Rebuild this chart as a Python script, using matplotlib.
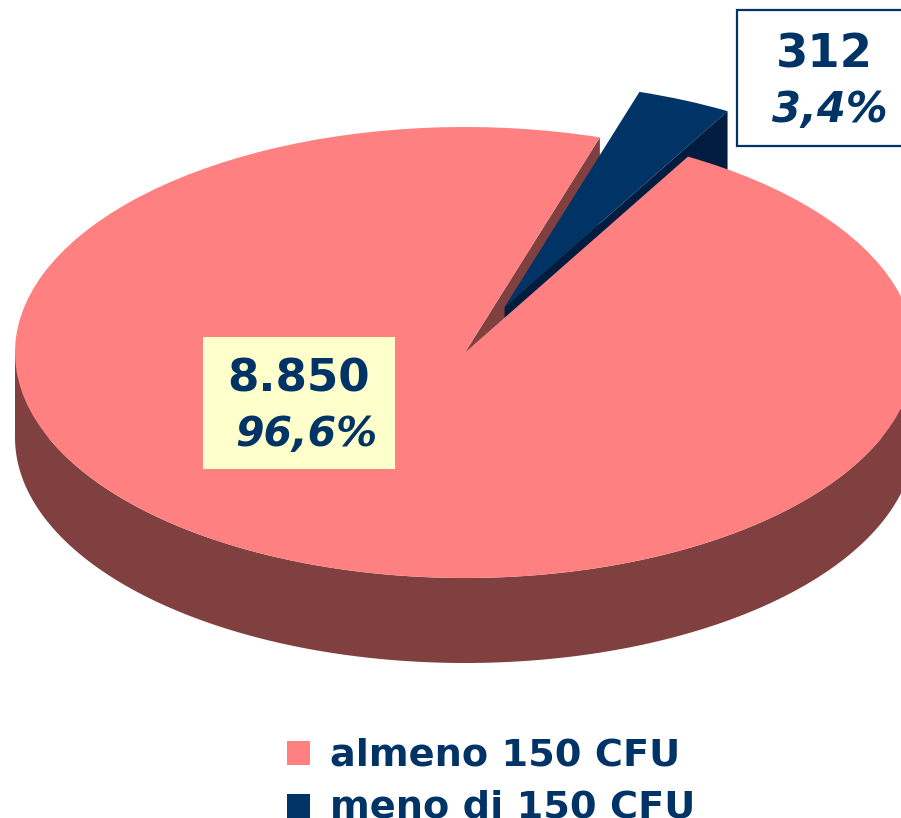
import numpy as np
import matplotlib
matplotlib.use("Agg")
import matplotlib.pyplot as plt
from matplotlib.patches import Rectangle

categories = ["almeno 150 CFU", "meno di 150 CFU"]
values = [8850, 312]
value_labels = ["8.850", "312"]
pct_labels = ["96,6%", "3,4%"]
colors = ["#FF8080", "#003366"]
wall_colors = ["#804040", "#001D3F"]

W, H = 901, 818
CX, CY, RX, RY = 465, 352.5, 450, 225.5
DEPTH = 85 / RY
START = 60.3
EXPLODE = 0.22
NAVY = "#003366"

fig = plt.figure(figsize=(W / 100, H / 100), dpi=100, facecolor="white")
ax = fig.add_axes([0, 0, 1, 1])
wedges, _ = ax.pie(values, colors=colors, startangle=START, counterclock=False,
                   explode=[0, EXPLODE], radius=1, center=(0, 0), frame=True,
                   wedgeprops=dict(linewidth=0))
ax.set_aspect("auto")
ax.set_xlim(-CX / RX, (W - CX) / RX)
ax.set_ylim((CY - H) / RY, CY / RY)
ax.axis("off")
wedges[0].set_zorder(6)
wedges[1].set_zorder(5)

frac = np.array(values) / sum(values)
a_pink_end = START - frac[0] * 360
a_navy_end = a_pink_end - frac[1] * 360
mid = np.radians((a_pink_end + a_navy_end) / 2)
off = EXPLODE * np.array([np.cos(mid), np.sin(mid)])


def quad(a, origin):
    t = np.radians(a)
    x = [origin[0], origin[0] + np.cos(t), origin[0] + np.cos(t), origin[0]]
    y = [origin[1], origin[1] + np.sin(t), origin[1] + np.sin(t) - DEPTH, origin[1] - DEPTH]
    return x, y


# front wall of the large slice
t = np.radians(np.linspace(180, 360, 200))
ax.fill(np.r_[np.cos(t), np.cos(t)[::-1]],
        np.r_[np.sin(t), np.sin(t)[::-1] - DEPTH],
        color=wall_colors[0], lw=0, zorder=1)
ax.fill(np.r_[-1, 1, 1, -1], np.r_[0, 0, -DEPTH, -DEPTH], color=wall_colors[0], lw=0, zorder=1)
# cut face of the large slice
ax.fill(*quad(a_pink_end, (0, 0)), color=wall_colors[0], lw=0, zorder=2)
# cut face of the small slice
ax.fill(*quad(a_navy_end, off), color=wall_colors[1], lw=0, zorder=3)


def box(x0, y0, x1, y1, **kw):
    fig.add_artist(Rectangle((x0 / W, 1 - y1 / H), (x1 - x0) / W, (y1 - y0) / H,
                             transform=fig.transFigure, **kw))


def label(x, y, s, size, italic=False, ha="center"):
    fig.text(x / W, 1 - y / H, s, fontsize=size, color=NAVY, fontweight="bold",
             fontstyle="italic" if italic else "normal", ha=ha, va="baseline",
             family="DejaVu Sans", zorder=20)


box(203, 337, 395, 469, facecolor="#FFFFCC", edgecolor="none", zorder=10)
box(737, 9.5, 915, 145.5, facecolor="white", edgecolor=NAVY, linewidth=1.6, zorder=10)
label(299, 391, value_labels[0], 32.5)
label(306, 446, pct_labels[0], 29.5, True)
label(824, 67, value_labels[1], 33.5)
label(830, 122, pct_labels[1], 30, True)

box(287, 741, 310, 765, facecolor=colors[0], edgecolor="none", zorder=10)
box(287, 794, 310, 818, facecolor=colors[1], edgecolor="none", zorder=10)
label(330, 765, categories[0], 27.5, ha="left")
label(330, 817, categories[1], 27.5, ha="left")

fig.savefig("out.png", dpi=100)
